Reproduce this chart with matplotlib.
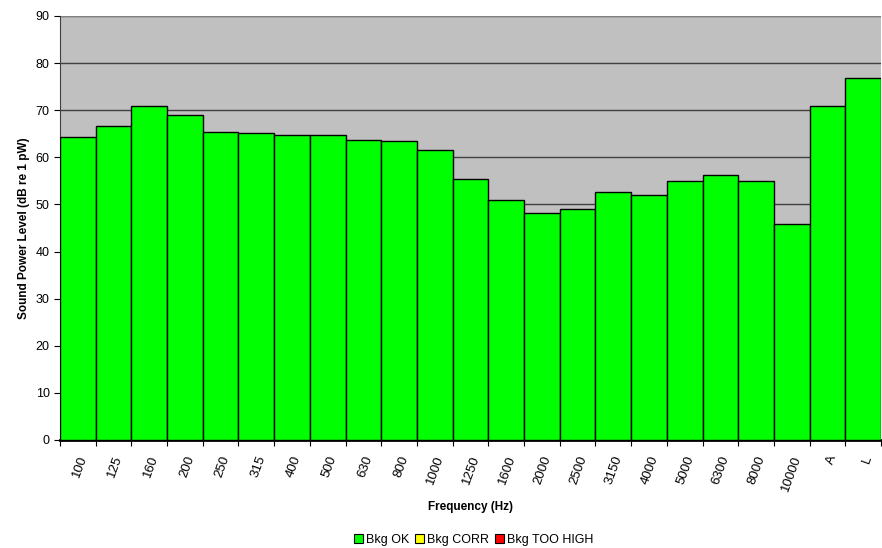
import matplotlib.pyplot as plt
import numpy as np
from matplotlib.patches import Patch

plt.rcParams['font.family'] = ['Liberation Sans', 'DejaVu Sans']

# Bandas de frecuencia y niveles
bandas = ["100", "125", "160", "200", "250", "315", "400", "500", "630", "800",
          "1000", "1250", "1600", "2000", "2500", "3150", "4000", "5000", "6300",
          "8000", "10000", "A", "L"]
niveles = [64.4, 66.6, 70.8, 69.0, 65.4, 65.2, 64.7, 64.7, 63.7, 63.5,
           61.5, 55.3, 50.9, 48.2, 49.1, 52.6, 51.9, 54.9, 56.3,
           55.0, 45.9, 70.8, 76.8]
leyenda = ["Bkg OK", "Bkg CORR", "Bkg TOO HIGH"]
colores = ["#00ff00", "#ffff00", "#ff0000"]

fig = plt.figure(figsize=(8.82, 5.48), dpi=100)
ax = fig.add_axes([60 / 882, 1 - 440 / 548, 821 / 882, 424 / 548])
ax.set_facecolor("#c0c0c0")

x = np.arange(len(bandas))
ax.bar(x, niveles, width=1.0, color=colores[0], edgecolor="black",
       linewidth=1.0, zorder=3)

ax.set_xlim(-0.5, len(bandas) - 0.5)
ax.set_ylim(0, 90)
ax.set_yticks(np.arange(0, 91, 10))
ax.yaxis.grid(True, color="#404040", linewidth=1.0, zorder=1)
ax.set_axisbelow(True)

# Ticks en los bordes de las barras
ax.set_xticks(np.arange(-0.5, len(bandas), 1))
ax.set_xticklabels([])
ax.set_xticks(x, minor=True)
ax.set_xticklabels(bandas, minor=True, rotation=70, ha="right", va="top",
                   fontsize=9.5, rotation_mode="anchor")
ax.tick_params(axis="x", which="minor", length=0, pad=10)
ax.tick_params(axis="x", which="major", length=4, direction="out")
ax.tick_params(axis="y", length=4, direction="out", labelsize=9)

for lado in ["top", "right"]:
    ax.spines[lado].set_visible(False)
ax.spines["left"].set_color("#404040")
ax.spines["bottom"].set_linewidth(2)
ax.axhline(90, color="#808080", linewidth=1.5, zorder=2)

ax.set_ylabel("Sound Power Level (dB re 1 pW)", fontsize=8.5, fontweight="bold")
ax.set_xlabel("Frequency (Hz)", fontsize=8.5, fontweight="bold", labelpad=6)

handles = [Patch(facecolor=c, edgecolor="black", linewidth=0.8) for c in colores]
fig.legend(handles, leyenda, loc="center", bbox_to_anchor=(0.537, 1 - 540 / 548),
           ncol=3, frameon=False, fontsize=9, handlelength=0.7, handleheight=0.7,
           handletextpad=0.25, columnspacing=0.5)

fig.savefig("out.png", dpi=100)
